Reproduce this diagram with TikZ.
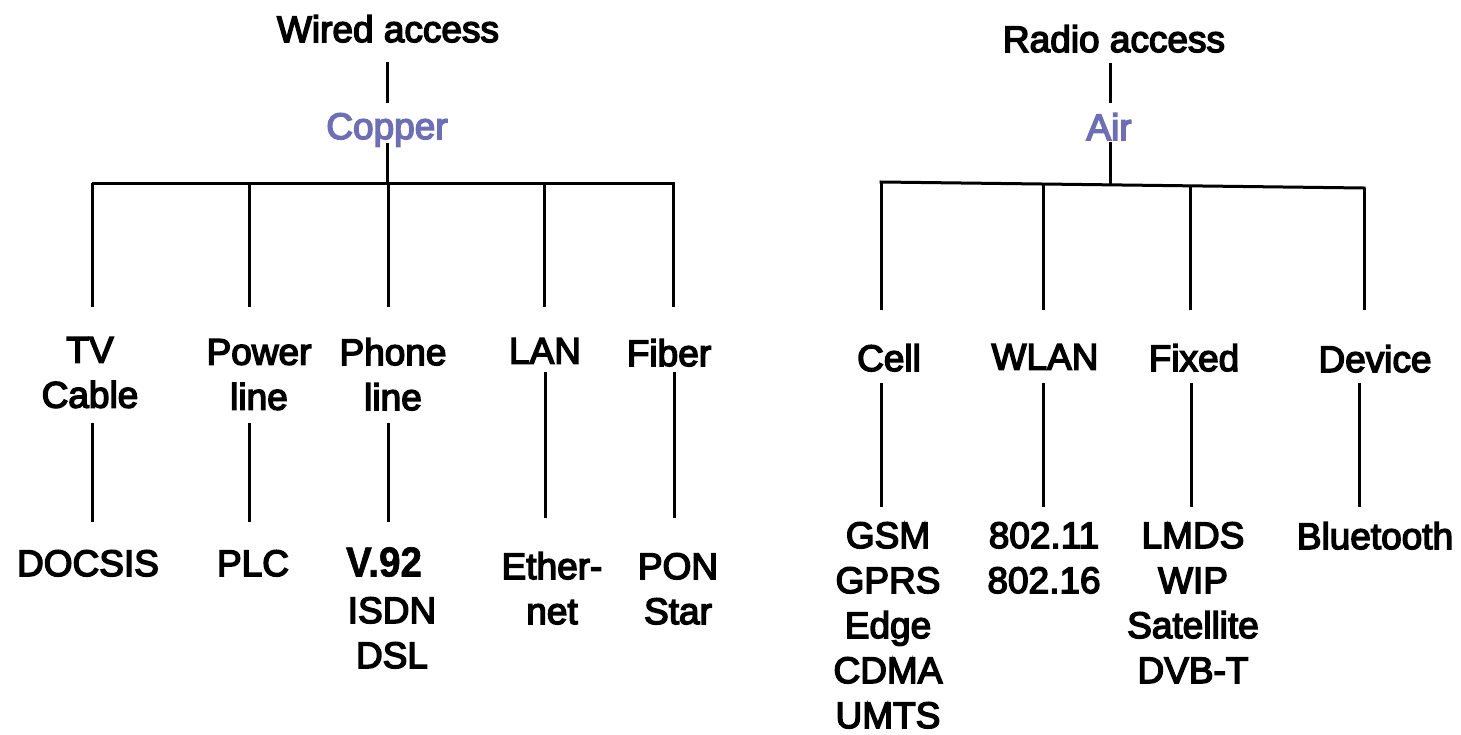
\documentclass[tikz,border=0pt]{standalone}
\usepackage{fontspec}
\usepackage{graphicx}
\setmainfont{Liberation Sans}
\newfontfamily\labfont{Liberation Sans}[FakeBold=4]
\newfontfamily\vfont{Liberation Sans Bold}[FakeBold=1.5]
\definecolor{medium}{HTML}{6E6EB4}
\tikzset{
  lab/.style={font=\labfont\fontsize{37}{45}\selectfont, inner sep=0pt, anchor=north, align=center},
  medlab/.style={lab, text=medium},
  conn/.style={draw=black, line width=3pt}
}
\begin{document}
\begin{tikzpicture}[x=1pt,y=-1pt]
\useasboundingbox (0,0) rectangle (1461,734);
% ---------------- Wired access ----------------
\node[lab] (wired) at (388,15) {Wired access};
\node[medlab] (copper) at (387,113) {Copper};
\node[lab] (tv) at (90,337) {TV\\Cable};
\node[lab] (power) at (259,339) {Power\\line};
\node[lab] (phone) at (393,338) {Phone\\line};
\node[lab] (lan) at (545,338) {LAN};
\node[lab] (fiber) at (669,339) {Fiber};
\node[lab] (docsis) at (88,550) {DOCSIS};
\node[lab] (plc) at (253,550) {PLC};
\node[lab, font=\vfont\fontsize{42}{45}\selectfont] (v92) at (384,547) {\scalebox{0.92}[1]{V.92}};
\node[lab] (isdn) at (392,597) {ISDN\\DSL};
\node[lab] (ether) at (552,552) {Ether-\\net};
\node[lab] (pon) at (678,553) {PON\\Star};
% connectors
\coordinate (wA) at (387,62);  \coordinate (wB) at (387,103);
\coordinate (cA) at (387,143); \coordinate (cB) at (387,183);
\coordinate (busL) at (93,183); \coordinate (busR) at (673,183);
\coordinate (t1) at (92,183);  \coordinate (t1b) at (92,307);
\coordinate (t2) at (249,183); \coordinate (t2b) at (249,307);
\coordinate (t3) at (388,183); \coordinate (t3b) at (388,307);
\coordinate (t4) at (544,183); \coordinate (t4b) at (544,307);
\coordinate (t5) at (673,183); \coordinate (t5b) at (673,307);
\coordinate (u1) at (92,423);  \coordinate (u1b) at (92,522);
\coordinate (u2) at (249,423); \coordinate (u2b) at (249,522);
\coordinate (u3) at (388,423); \coordinate (u3b) at (388,522);
\coordinate (u4) at (545,372); \coordinate (u4b) at (545,518);
\coordinate (u5) at (674,372); \coordinate (u5b) at (674,518);
\draw[conn] (wA) -- (wB);
\draw[conn] (cA) -- (cB);
\draw[conn, line cap=rect] (busL) -- (busR);
\draw[conn] (t1) -- (t1b);
\draw[conn] (t2) -- (t2b);
\draw[conn] (t3) -- (t3b);
\draw[conn] (t4) -- (t4b);
\draw[conn] (t5) -- (t5b);
\draw[conn] (u1) -- (u1b);
\draw[conn] (u2) -- (u2b);
\draw[conn] (u3) -- (u3b);
\draw[conn] (u4) -- (u4b);
\draw[conn] (u5) -- (u5b);
% ---------------- Radio access ----------------
\node[lab] (radio) at (1114,25) {Radio access};
\node[medlab] (air) at (1109,113) {Air};
\node[lab] (cell) at (889,344) {Cell};
\node[lab] (wlan) at (1045,344) {WLAN};
\node[lab] (fixed) at (1194,344) {Fixed};
\node[lab] (device) at (1375,345) {Device};
\node[lab] (gsm) at (888,522) {GSM\\GPRS\\Edge\\CDMA\\UMTS};
\node[lab] (ieee) at (1044,522) {802.11\\802.16};
\node[lab] (lmds) at (1193,522) {LMDS\\WIP\\Satellite\\DVB-T};
\node[lab] (bt) at (1375,522) {Bluetooth};
% connectors
\coordinate (rA) at (1110,63);  \coordinate (rB) at (1110,103);
\coordinate (aA) at (1110,142); \coordinate (aB) at (1110,184);
\coordinate (rbusL) at (881,182); \coordinate (rbusR) at (1364,188);
\coordinate (s1) at (881,182);  \coordinate (s1b) at (881,310);
\coordinate (s2) at (1043,184); \coordinate (s2b) at (1043,310);
\coordinate (s3) at (1190,186); \coordinate (s3b) at (1190,310);
\coordinate (s4) at (1364,188); \coordinate (s4b) at (1364,310);
\coordinate (v1) at (881,383);  \coordinate (v1b) at (881,507);
\coordinate (v2) at (1043,383); \coordinate (v2b) at (1043,507);
\coordinate (v3) at (1191,383); \coordinate (v3b) at (1191,507);
\coordinate (v4) at (1359,383); \coordinate (v4b) at (1359,507);
\draw[conn] (rA) -- (rB);
\draw[conn] (aA) -- (aB);
\draw[conn, line cap=rect] (rbusL) -- (rbusR);
\draw[conn] (s1) -- (s1b);
\draw[conn] (s2) -- (s2b);
\draw[conn] (s3) -- (s3b);
\draw[conn] (s4) -- (s4b);
\draw[conn] (v1) -- (v1b);
\draw[conn] (v2) -- (v2b);
\draw[conn] (v3) -- (v3b);
\draw[conn] (v4) -- (v4b);
\end{tikzpicture}
\end{document}
